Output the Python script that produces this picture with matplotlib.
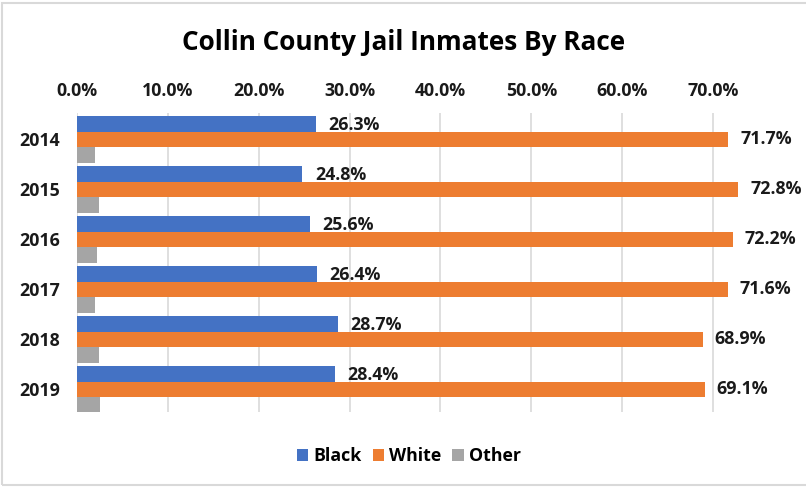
import matplotlib.pyplot as plt
import numpy as np
from matplotlib.patches import Rectangle
from matplotlib.ticker import FuncFormatter

years = ["2014", "2015", "2016", "2017", "2018", "2019"]
black = [26.3, 24.8, 25.6, 26.4, 28.7, 28.4]
white = [71.7, 72.8, 72.2, 71.6, 68.9, 69.1]
other = [2.0, 2.4, 2.2, 2.0, 2.4, 2.5]
x_ticks = [0, 10, 20, 30, 40, 50, 60, 70]

BLUE = "#4472C4"
ORANGE = "#ED7D31"
GRAY = "#A5A5A5"
FONT = "Open Sans"
FS = 12.8

W, H = 806, 487
fig = plt.figure(figsize=(W / 100, H / 100), dpi=100)

# outer chart border
fig.patches.append(Rectangle((2 / W, 1 - 485 / H), (W + 10) / W, 482 / H,
                             transform=fig.transFigure, fill=False,
                             edgecolor="#d9d9d9", linewidth=1.5))

left, right, top, bottom = 77, 790, 113, 412
ax = fig.add_axes([left / W, 1 - bottom / H, (right - left) / W, (bottom - top) / H])

y = np.arange(len(years))
h = 0.315
ax.barh(y - h, black, height=h, color=BLUE, label="Black", zorder=3)
ax.barh(y, white, height=h, color=ORANGE, label="White", zorder=3)
ax.barh(y + h, other, height=h, color=GRAY, label="Other", zorder=3)

for i in range(len(years)):
    ax.text(black[i] + 1.4, y[i] - h + 0.02, f"{black[i]:.1f}%", va="center", ha="left",
            fontsize=FS, fontweight="bold", family=FONT, color="#1a1a1a")
    ax.text(white[i] + 1.3, y[i], f"{white[i]:.1f}%", va="center", ha="left",
            fontsize=FS, fontweight="bold", family=FONT, color="#1a1a1a")

xmax = 70 * (right - left) / (713 - left)
ax.set_xlim(0, xmax)
ax.set_ylim(5.45, -0.53)
ax.set_xticks(x_ticks)
ax.xaxis.set_major_formatter(FuncFormatter(lambda v, p: f"{v:.1f}%"))
ax.xaxis.tick_top()
ax.set_yticks(y)
ax.set_yticklabels(years)
ax.tick_params(axis="both", length=0, labelsize=FS, colors="#1a1a1a")
ax.tick_params(axis="x", pad=9)
ax.tick_params(axis="y", pad=12)
for lab in ax.get_xticklabels() + ax.get_yticklabels():
    lab.set_fontweight("bold")
    lab.set_family(FONT)

ax.grid(axis="x", color="#d9d9d9", linewidth=1.2, zorder=0)
for s in ax.spines.values():
    s.set_visible(False)

fig.text(404 / W, 1 - 43 / H, "Collin County Jail Inmates By Race", ha="center", va="center",
         fontsize=18.8, fontweight="bold", family=FONT)

fig.legend(loc="center", bbox_to_anchor=(409 / W, 1 - 456 / H), ncol=3, frameon=False,
           handlelength=0.65, handleheight=0.65, handletextpad=0.3, columnspacing=0.6,
           prop={"family": FONT, "weight": "bold", "size": FS})

fig.savefig("out.png", dpi=100)
